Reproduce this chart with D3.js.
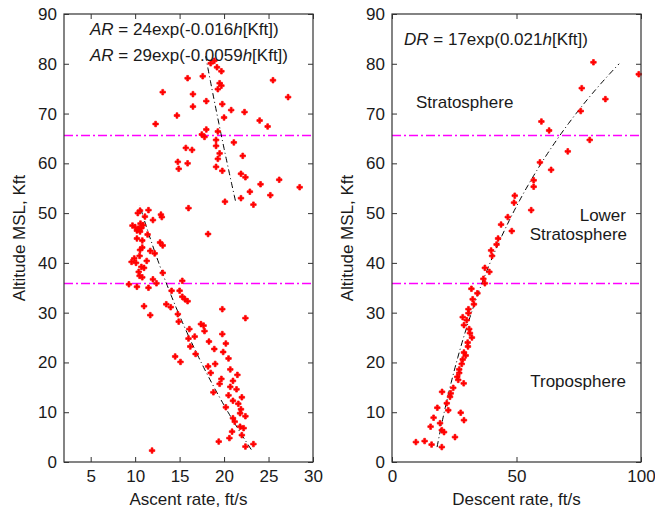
<!DOCTYPE html>
<html>
<head>
<meta charset="utf-8">
<script src="https://cdn.jsdelivr.net/npm/d3@7"></script>
<style>
  body { margin: 0; background: #fff; }
  text { font-family: Arial, "Liberation Sans", sans-serif; fill: #1a1a1a; }
</style>
</head>
<body>
<div id="chart"></div>
<script>
// ascent rate (ft/s) vs altitude (Kft), left panel
const ascentRate = [
  18.9, 18.5, 19.2, 19.7, 17.6, 15.9, 25.5, 19.5, 19.7, 19.3, 13.1, 16.5, 27.2, 18.0, 16.5, 19.8,
  20.8, 22.3, 14.7, 20.0, 24.0, 12.3, 24.9, 18.0, 19.3, 17.5, 17.8, 19.1, 21.1, 19.1, 15.7, 16.4,
  19.5, 22.1, 19.3, 14.8, 15.9, 14.9, 19.1, 19.8, 21.9, 22.4, 26.2, 24.1, 28.5, 22.9, 25.2, 21.9,
  20.1, 23.3, 16.0, 18.2,
  10.55, 11.5, 11.1, 10.3, 12.9, 13.0, 12.0, 10.6, 9.7, 10.9, 10.4, 10.2, 10.55, 10.0, 10.7, 11.4,
  10.2, 10.8, 12.8, 13.1, 10.8, 10.55, 11.7, 12.2, 10.5, 9.9, 9.6, 10.1, 11.3, 10.7, 11.0, 10.4,
  10.8, 10.5, 12.0, 13.1, 15.3, 9.3, 10.2, 11.5, 12.4, 14.1, 15.0, 15.3, 15.6, 15.9, 13.5, 14.0,
  11.0, 11.7, 14.8, 14.9, 19.8, 22.4, 16.1, 17.4, 17.7, 16.7, 17.8, 19.8, 16.0,
  18.3, 20.2, 16.2, 18.9, 19.9, 16.8, 14.5, 20.5, 15.1, 19.0, 18.2, 20.7, 18.5, 21.5, 19.7, 21.0,
  19.5, 20.7, 21.4, 18.8, 20.5, 22.0, 21.0, 21.6, 20.2, 21.9, 21.8, 22.4, 21.0, 21.2, 21.8, 22.2,
  20.9, 22.0, 19.4, 20.6, 22.4, 23.3, 11.9
];
const ascentAlt = [
  80.6, 80.1, 79.3, 78.5, 77.5, 77.1, 76.7, 76.1, 75.6, 74.9, 74.3, 73.9, 73.3, 72.5, 71.4, 71.9,
  70.7, 70.3, 69.6, 69.2, 68.6, 67.9, 67.4, 66.8, 66.4, 65.8, 65.3, 64.7, 64.2, 63.5, 63.1, 62.7,
  62.0, 61.5, 60.9, 60.3, 60.0, 58.9, 59.3, 58.5, 57.9, 57.2, 56.7, 55.8, 55.2, 54.3, 53.6, 53.0,
  52.3, 51.7, 51.0, 45.8,
  50.5, 50.6, 49.3, 50.0, 49.7, 49.2, 48.6, 47.9, 47.5, 47.6, 46.9, 46.5, 46.3, 47.2, 47.0, 45.7,
  44.9, 44.5, 44.1, 43.5, 43.1, 42.6, 42.4, 41.9, 41.4, 40.9, 40.2, 40.0, 40.4, 39.2, 39.0, 38.2,
  37.1, 37.4, 36.7, 38.0, 36.4, 35.7, 35.2, 35.0, 35.9, 34.4, 34.4, 33.2, 32.7, 32.3, 31.7, 31.1,
  31.3, 29.5, 29.7, 28.2, 30.7, 28.9, 26.7, 27.7, 27.4, 25.2, 26.3, 25.7, 24.8,
  24.2, 23.8, 23.2, 22.7, 22.1, 21.7, 21.2, 20.8, 20.1, 19.7, 19.2, 18.6, 17.9, 17.5, 16.7, 16.3,
  15.7, 15.1, 14.6, 14.0, 13.4, 13.0, 12.3, 11.7, 11.0, 10.6, 9.8, 9.2, 8.8, 8.1, 7.1, 6.8,
  6.1, 5.4, 4.1, 4.8, 3.1, 3.6, 2.3
];

// descent rate (ft/s) vs altitude (Kft), right panel
const descentRate = [
  80.9, 99.1, 76.2, 85.7, 75.8, 60.0, 63.1, 79.4, 70.6, 59.4, 63.9, 56.9, 56.9, 49.3, 55.9,
  49.0, 46.5, 43.8, 48.1, 42.6, 42.0, 39.8, 40.2, 37.3, 39.1, 36.7, 37.3, 31.9, 34.3, 32.4,
  32.9, 30.7, 30.7, 28.4, 30.0, 28.9, 31.0, 31.3, 32.1, 30.4, 30.5, 28.9, 29.6, 28.4, 28.0,
  27.0, 27.0, 28.8, 26.2, 26.6, 24.6, 20.1, 23.6, 23.3, 22.0, 18.2, 22.6, 27.6, 16.7, 28.9,
  19.3, 15.5, 20.0, 20.9, 25.3, 9.6, 13.1, 15.9, 20.0
];
const descentAlt = [
  80.3, 77.9, 75.1, 72.9, 70.5, 68.4, 66.6, 64.7, 62.4, 60.2, 58.7, 56.6, 55.3, 53.5, 50.6,
  52.1, 49.2, 47.7, 46.4, 44.9, 43.7, 42.5, 41.4, 39.0, 38.2, 36.8, 35.9, 34.8, 33.9, 32.7,
  31.7, 30.7, 29.9, 29.1, 28.5, 27.5, 26.7, 25.9, 25.0, 24.0, 23.2, 22.0, 21.4, 20.6, 19.7,
  18.6, 17.9, 15.8, 17.1, 16.5, 14.9, 14.1, 13.8, 13.1, 11.8, 10.9, 10.4, 9.9, 8.9, 8.4,
  7.8, 7.1, 6.4, 6.0, 5.0, 4.0, 4.2, 3.5, 3.0
];

// fitted curves: rate = a * exp(b * h), drawn over [hFrom, hTo]
const ascentFits = [
  { a: 24, b: -0.016, hFrom: 2.5, hTo: 51.5 },
  { a: 29, b: -0.0059, hFrom: 52.5, hTo: 81.5 }
];
const descentFit = { a: 17, b: 0.021, hFrom: 3, hTo: 80 };

// tropopause / stratosphere boundaries, Kft
const boundaries = [36, 65.6];

const altTicks = d3.range(0, 91, 10);
const ascentTicks = [5, 10, 15, 20, 25, 30];
const descentTicks = [0, 50, 100];

const W = 655, H = 510;
const svg = d3.select('#chart').append('svg')
  .attr('width', W)
  .attr('height', H);

const y = d3.scaleLinear().domain([0, 90]).range([462, 14]);
const xL = d3.scaleLinear().domain([2, 30]).range([64, 313]);
const xR = d3.scaleLinear().domain([0, 100]).range([392, 641]);

function panel(x, xTicks, rates, alts, fits, xLabel) {
  const [x0, x1] = x.range();
  const g = svg.append('g');

  // boundary lines (snapped to whole pixels so the magenta stays bright)
  g.selectAll('line.bnd').data(boundaries).join('line')
    .attr('class', 'bnd')
    .attr('x1', x0).attr('x2', x1)
    .attr('y1', d => Math.round(y(d)) + 0.5).attr('y2', d => Math.round(y(d)) + 0.5)
    .attr('stroke', '#ff00ff')
    .attr('stroke-width', 1.3)
    .attr('stroke-dasharray', '9,3,2,3');

  // fit curves
  const line = d3.line().x(d => x(d[0])).y(d => y(d[1]));
  fits.forEach(f => {
    const pts = d3.range(f.hFrom, f.hTo + 0.01, 0.5).map(h => [f.a * Math.exp(f.b * h), h]);
    g.append('path')
      .attr('d', line(pts))
      .attr('fill', 'none')
      .attr('stroke', '#000')
      .attr('stroke-width', 1)
      .attr('stroke-dasharray', '6,3,1,3');
  });

  // points
  const sym = d3.symbol().type(d3.symbolCross).size(17);
  g.selectAll('path.pt').data(rates.map((r, i) => [r, alts[i]])).join('path')
    .attr('class', 'pt')
    .attr('transform', d => `translate(${x(d[0])},${y(d[1])})`)
    .attr('d', sym)
    .attr('fill', '#ff0000')
    .attr('stroke', '#ff0000')
    .attr('stroke-width', 0.7)
    .attr('stroke-linejoin', 'round');

  // axes, ticks pointing inward on all four sides
  const yAx = g.append('g').attr('transform', `translate(${x0},0)`)
    .call(d3.axisLeft(y).tickValues(altTicks).tickSizeInner(-5).tickSizeOuter(0).tickPadding(7));
  const yAx2 = g.append('g').attr('transform', `translate(${x1},0)`)
    .call(d3.axisRight(y).tickValues(altTicks).tickSizeInner(-5).tickSizeOuter(0).tickFormat(''));
  const xAx = g.append('g').attr('transform', `translate(0,${y(0)})`)
    .call(d3.axisBottom(x).tickValues(xTicks).tickSizeInner(-5).tickSizeOuter(0).tickPadding(8));
  const xAx2 = g.append('g').attr('transform', `translate(0,${y(90)})`)
    .call(d3.axisTop(x).tickValues(xTicks).tickSizeInner(-5).tickSizeOuter(0).tickFormat(''));

  [yAx, yAx2, xAx, xAx2].forEach(a => {
    a.select('.domain').remove();
    a.selectAll('line').attr('stroke', '#333');
    a.selectAll('text').attr('font-size', 17).attr('fill', '#1a1a1a')
      .style('font-family', 'Arial, "Liberation Sans", sans-serif');
  });

  // frame
  g.append('rect')
    .attr('x', x0).attr('y', y(90))
    .attr('width', x1 - x0).attr('height', y(0) - y(90))
    .attr('fill', 'none')
    .attr('stroke', '#333')
    .attr('stroke-width', 1.2);

  g.append('text')
    .attr('x', (x0 + x1) / 2).attr('y', 505)
    .attr('text-anchor', 'middle')
    .attr('font-size', 17)
    .text(xLabel);

  g.append('text')
    .attr('transform', `translate(${x0 - 39},${(y(0) + y(90)) / 2}) rotate(-90)`)
    .attr('text-anchor', 'middle')
    .attr('font-size', 17)
    .text('Altitude MSL, Kft');

  return g;
}

const gL = panel(xL, ascentTicks, ascentRate, ascentAlt, ascentFits, 'Ascent rate, ft/s');
const gR = panel(xR, descentTicks, descentRate, descentAlt, [descentFit], 'Descent rate, ft/s');

// equation labels
function equation(g, xPos, yPos, name, coef, expo) {
  const t = g.append('text').attr('x', xPos).attr('y', yPos).attr('font-size', 17);
  t.append('tspan').attr('font-style', 'italic').text(name);
  t.append('tspan').text(` = ${coef}exp(${expo}`);
  t.append('tspan').attr('font-style', 'italic').text('h');
  t.append('tspan').text('[Kft])');
}
equation(gL, 90, 35, 'AR', 24, '-0.016');
equation(gL, 90, 61, 'AR', 29, '-0.0059');
equation(gR, 404, 45, 'DR', 17, '0.021');

// layer names
const layers = [
  { text: 'Stratosphere', x: 416, y: 108, anchor: 'start' },
  { text: 'Lower', x: 626, y: 221, anchor: 'end' },
  { text: 'Stratosphere', x: 627, y: 240, anchor: 'end' },
  { text: 'Troposphere', x: 626, y: 387, anchor: 'end' }
];
gR.selectAll('text.layer').data(layers).join('text')
  .attr('class', 'layer')
  .attr('x', d => d.x).attr('y', d => d.y)
  .attr('text-anchor', d => d.anchor)
  .attr('font-size', 17)
  .text(d => d.text);
</script>
</body>
</html>
